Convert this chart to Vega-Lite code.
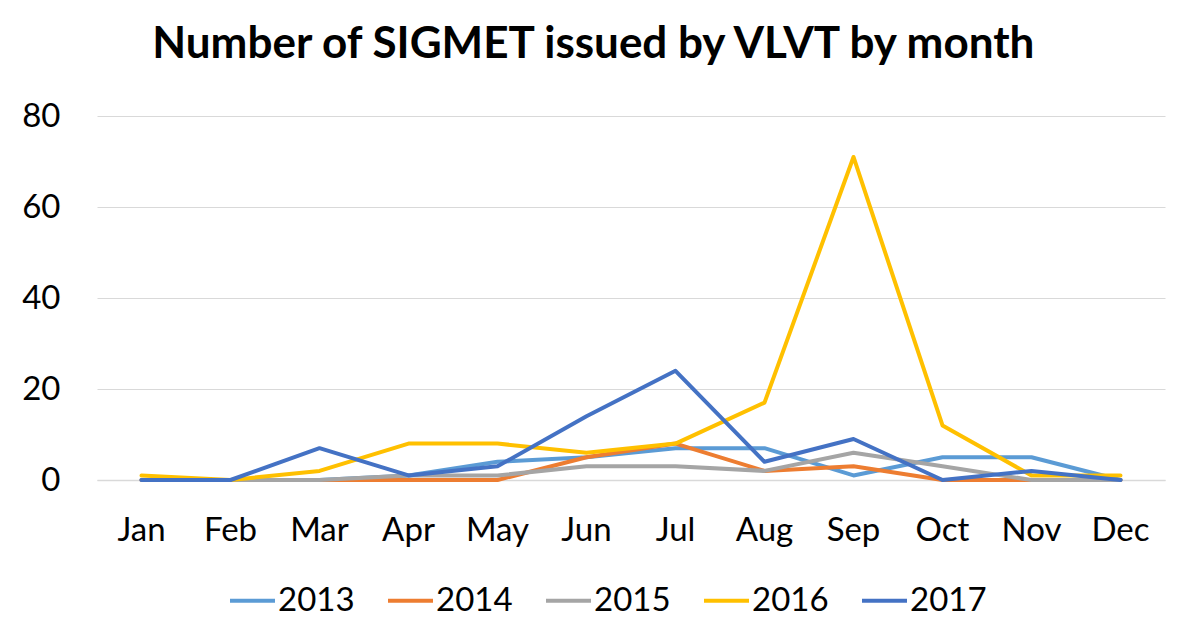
{
  "$schema": "https://vega.github.io/schema/vega-lite/v6.json",
  "width": 1068,
  "height": 364,
  "autosize": {"type": "none"},
  "padding": {"left": 97, "top": 116, "right": 29, "bottom": 163},
  "background": "white",
  "title": {
    "text": "Number of SIGMET issued by VLVT by month",
    "font": "Lato",
    "fontSize": 44,
    "fontWeight": "bold",
    "color": "black",
    "anchor": "middle",
    "frame": "bounds",
    "offset": 33
  },
  "config": {
    "view": {"stroke": null},
    "font": "Lato"
  },
  "data": {
    "values": [
      {"month": "Jan", "year": "2013", "count": 0},
      {"month": "Feb", "year": "2013", "count": 0},
      {"month": "Mar", "year": "2013", "count": 0},
      {"month": "Apr", "year": "2013", "count": 1},
      {"month": "May", "year": "2013", "count": 4},
      {"month": "Jun", "year": "2013", "count": 5},
      {"month": "Jul", "year": "2013", "count": 7},
      {"month": "Aug", "year": "2013", "count": 7},
      {"month": "Sep", "year": "2013", "count": 1},
      {"month": "Oct", "year": "2013", "count": 5},
      {"month": "Nov", "year": "2013", "count": 5},
      {"month": "Dec", "year": "2013", "count": 0},
      {"month": "Jan", "year": "2014", "count": 0},
      {"month": "Feb", "year": "2014", "count": 0},
      {"month": "Mar", "year": "2014", "count": 0},
      {"month": "Apr", "year": "2014", "count": 0},
      {"month": "May", "year": "2014", "count": 0},
      {"month": "Jun", "year": "2014", "count": 5},
      {"month": "Jul", "year": "2014", "count": 8},
      {"month": "Aug", "year": "2014", "count": 2},
      {"month": "Sep", "year": "2014", "count": 3},
      {"month": "Oct", "year": "2014", "count": 0},
      {"month": "Nov", "year": "2014", "count": 0},
      {"month": "Dec", "year": "2014", "count": 0},
      {"month": "Jan", "year": "2015", "count": 0},
      {"month": "Feb", "year": "2015", "count": 0},
      {"month": "Mar", "year": "2015", "count": 0},
      {"month": "Apr", "year": "2015", "count": 1},
      {"month": "May", "year": "2015", "count": 1},
      {"month": "Jun", "year": "2015", "count": 3},
      {"month": "Jul", "year": "2015", "count": 3},
      {"month": "Aug", "year": "2015", "count": 2},
      {"month": "Sep", "year": "2015", "count": 6},
      {"month": "Oct", "year": "2015", "count": 3},
      {"month": "Nov", "year": "2015", "count": 0},
      {"month": "Dec", "year": "2015", "count": 0},
      {"month": "Jan", "year": "2016", "count": 1},
      {"month": "Feb", "year": "2016", "count": 0},
      {"month": "Mar", "year": "2016", "count": 2},
      {"month": "Apr", "year": "2016", "count": 8},
      {"month": "May", "year": "2016", "count": 8},
      {"month": "Jun", "year": "2016", "count": 6},
      {"month": "Jul", "year": "2016", "count": 8},
      {"month": "Aug", "year": "2016", "count": 17},
      {"month": "Sep", "year": "2016", "count": 71},
      {"month": "Oct", "year": "2016", "count": 12},
      {"month": "Nov", "year": "2016", "count": 1},
      {"month": "Dec", "year": "2016", "count": 1},
      {"month": "Jan", "year": "2017", "count": 0},
      {"month": "Feb", "year": "2017", "count": 0},
      {"month": "Mar", "year": "2017", "count": 7},
      {"month": "Apr", "year": "2017", "count": 1},
      {"month": "May", "year": "2017", "count": 3},
      {"month": "Jun", "year": "2017", "count": 14},
      {"month": "Jul", "year": "2017", "count": 24},
      {"month": "Aug", "year": "2017", "count": 4},
      {"month": "Sep", "year": "2017", "count": 9},
      {"month": "Oct", "year": "2017", "count": 0},
      {"month": "Nov", "year": "2017", "count": 2},
      {"month": "Dec", "year": "2017", "count": 0}
    ]
  },
  "mark": {"type": "line", "strokeWidth": 4, "strokeJoin": "round", "strokeCap": "round"},
  "encoding": {
    "x": {
      "field": "month",
      "type": "ordinal",
      "sort": ["Jan","Feb","Mar","Apr","May","Jun","Jul","Aug","Sep","Oct","Nov","Dec"],
      "scale": {"type": "band", "paddingInner": 0, "paddingOuter": 0},
      "axis": {
        "title": null,
        "labelAngle": 0,
        "labelFontSize": 33,
        "labelColor": "black",
        "labelPadding": 34,
        "ticks": false,
        "grid": false,
        "domainColor": "#d9d9d9",
        "domainWidth": 1.5
      }
    },
    "y": {
      "field": "count",
      "type": "quantitative",
      "scale": {"domain": [0, 80], "nice": false},
      "axis": {
        "title": null,
        "values": [0, 20, 40, 60, 80],
        "labelFontSize": 33,
        "labelColor": "black",
        "labelPadding": 37,
        "ticks": false,
        "domain": false,
        "gridColor": "#d9d9d9",
        "gridWidth": 1.2
      }
    },
    "color": {
      "field": "year",
      "type": "nominal",
      "scale": {
        "domain": ["2013", "2014", "2015", "2016", "2017"],
        "range": ["#5B9BD5", "#ED7D31", "#A5A5A5", "#FFC000", "#4472C4"]
      },
      "legend": {
        "title": null,
        "orient": "none",
        "direction": "horizontal",
        "legendX": 131,
        "legendY": 460,
        "symbolType": "stroke",
        "symbolSize": 2025,
        "symbolStrokeWidth": 4,
        "labelFontSize": 33,
        "labelColor": "black",
        "labelOffset": 1,
        "columnPadding": 25
      }
    }
  }
}
